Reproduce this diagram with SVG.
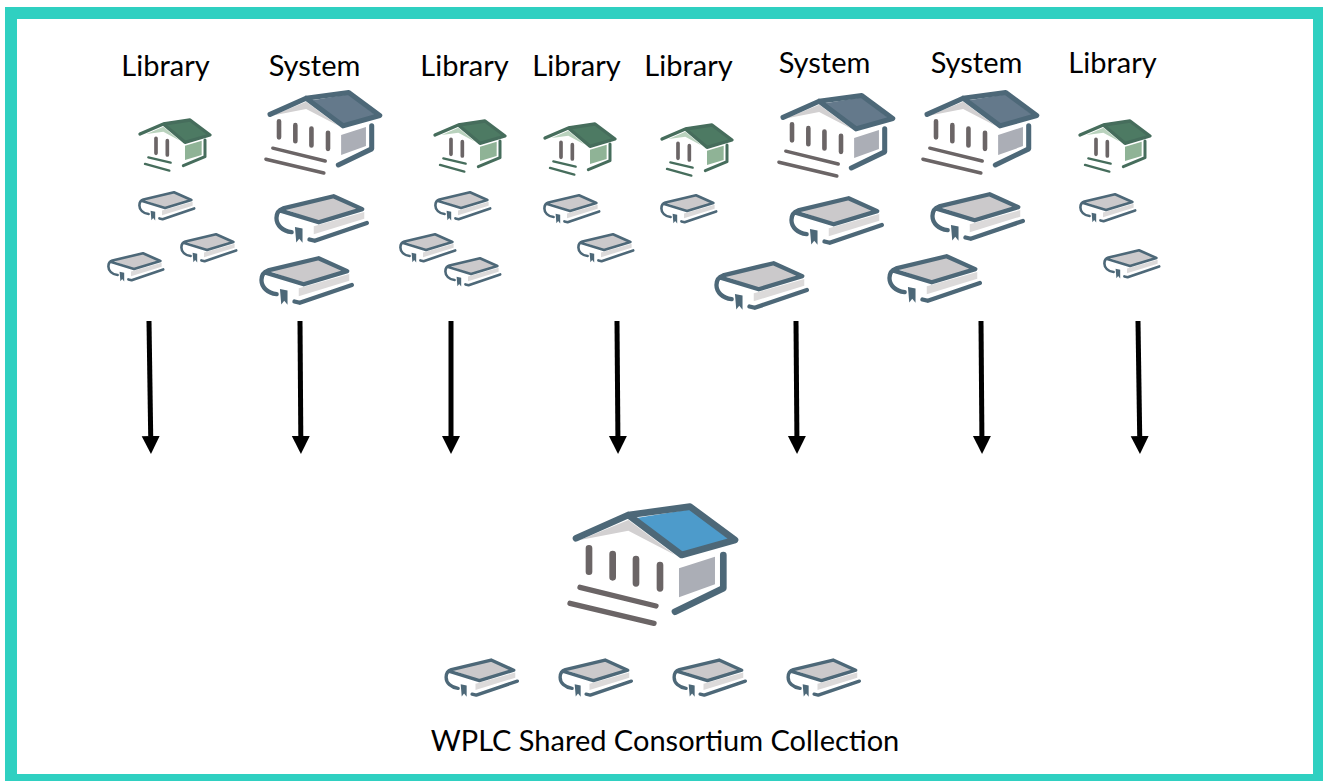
<svg xmlns="http://www.w3.org/2000/svg" width="1323" height="781" viewBox="0 0 1323 781">
<style>
text{font-family:Lato,"Liberation Sans",sans-serif;fill:#000;font-size:29px;text-anchor:middle}
.ln{fill:none;stroke-linecap:round;stroke-linejoin:round}
.slate{stroke:#4d6878}
.dark{stroke:#6b6566}
.green{stroke:#466d5c}
.arrow{stroke:#000;stroke-width:5;fill:none}
</style>
<defs>
<marker id="head" markerUnits="userSpaceOnUse" markerWidth="18" markerHeight="20" refX="0" refY="9" orient="auto">
<path d="M0 0L18 9L0 18Z" fill="#000"/>
</marker>
<g id="house-blue">
<path d="M60 150L205 90L345 195L205 122Z" fill="#d2d0d1"/>
<path d="M225 85L390 58L510 150L368 188Z" fill="#4d9bcb"/>
<path class="ln slate" stroke-width="20" d="M48 145L205 75L390 50L525 150L365 195L205 75"/>
<path class="ln dark" stroke-width="20" d="M87 175V245M158 192V262M228 207V280M300 225V295"/>
<path class="ln dark" stroke-width="16" d="M60 292L288 348M30 340L282 400"/>
<path d="M357 235L465 200V283L357 322Z" fill="#abaeb6"/>
<path class="ln slate" stroke-width="20" d="M490 195V295L345 365"/>
</g>
<g id="house-slate">
<path d="M60 150L205 90L345 195L205 122Z" fill="#d2d0d1"/>
<path d="M225 85L390 58L510 150L368 188Z" fill="#64798b"/>
<path class="ln slate" stroke-width="22" d="M48 145L205 75L390 50L525 150L365 195L205 75"/>
<path class="ln dark" stroke-width="20" d="M87 175V245M158 192V262M228 207V280M300 225V295"/>
<path class="ln dark" stroke-width="15" d="M60 292L288 348M30 340L282 400"/>
<path d="M357 235L465 200V283L357 322Z" fill="#abaeb6"/>
<path class="ln slate" stroke-width="22" d="M490 195V295L345 365"/>
</g>
<g id="house-green">
<path d="M50 72L100 50L150 92L100 65Z" fill="#b9d2bd"/>
<path d="M105 42L180 30L240 75L165 97Z" fill="#4d7a63"/>
<path class="ln green" stroke-width="10" d="M30 72L100 42L180 30L240 75L165 97L100 42"/>
<path class="ln dark" stroke-width="11" d="M78 85V130M112 92V135"/>
<path class="ln green" stroke-width="7" d="M55 142L122 158M45 162L118 182"/>
<path d="M165 107L215 92V135L165 150Z" fill="#8fb396"/>
<path class="ln green" stroke-width="9" d="M225 90V140L160 167"/>
</g>
<g id="book">
<g transform="translate(0 -6)">
<path d="M175 128L328 85V105L175 152Z" fill="#dcdada"/>
<path d="M85 75L232 40L318 76L190 114Z" fill="#cbc9cb"/>
<path class="ln slate" stroke-width="13" d="M108 146C80 142 62 125 62 103C62 85 70 78 82 74L235 37L322 76L190 116L72 80M162 168L178 172L336 118"/>
<path d="M118 130L141 135V178L131 166L122 177Z" fill="#4d6878"/>
</g>
</g>
</defs>
<path id="frame" fill-rule="evenodd" fill="#2fd0c1" d="M5 7H1323V781H5ZM17 19V774H1313V19Z"/>
<g id="connectors">
<path class="arrow" marker-end="url(#head)" d="M149 321L150.700 436"/>
<path class="arrow" marker-end="url(#head)" d="M300 321L300.800 436"/>
<path class="arrow" marker-end="url(#head)" d="M451 321V436"/>
<path class="arrow" marker-end="url(#head)" d="M617 321L617.900 436"/>
<path class="arrow" marker-end="url(#head)" d="M796 321L796.900 436"/>
<path class="arrow" marker-end="url(#head)" d="M981 321L981.900 436"/>
<path class="arrow" marker-end="url(#head)" d="M1138 321L1139.700 436"/>
</g>
<g id="node-library-1"><text x="165.500" y="76">Library</text><use href="#house-green" transform="translate(130 110) scale(.3333)"/><use href="#book" transform="translate(127 186) scale(.2)"/><use href="#book" transform="translate(169 228) scale(.2)"/><use href="#book" transform="translate(96 247) scale(.2)"/></g>
<g id="node-system-1"><text x="314.500" y="76">System</text><use href="#house-slate" transform="translate(259 81) scale(.23)"/><use href="#book" transform="translate(256 186) scale(.33)"/><use href="#book" transform="translate(241 248) scale(.33)"/></g>
<g id="node-library-2"><text x="464.500" y="76">Library</text><use href="#house-green" transform="translate(425 111) scale(.3333)"/><use href="#book" transform="translate(423 186) scale(.2)"/><use href="#book" transform="translate(388 228) scale(.2)"/><use href="#book" transform="translate(433 252) scale(.2)"/></g>
<g id="node-library-3"><text x="576.500" y="76">Library</text><use href="#house-green" transform="translate(535 114) scale(.3333)"/><use href="#book" transform="translate(532 189) scale(.2)"/><use href="#book" transform="translate(566 228) scale(.2)"/></g>
<g id="node-library-4"><text x="688.500" y="76">Library</text><use href="#house-green" transform="translate(652 115) scale(.3333)"/><use href="#book" transform="translate(649 189) scale(.2)"/></g>
<g id="node-system-2"><text x="824.500" y="73">System</text><use href="#house-slate" transform="translate(772 84) scale(.23)"/><use href="#book" transform="translate(771 188) scale(.33)"/><use href="#book" transform="translate(696 253) scale(.33)"/></g>
<g id="node-system-3"><text x="976.500" y="73">System</text><use href="#house-slate" transform="translate(916 81) scale(.23)"/><use href="#book" transform="translate(912 184) scale(.33)"/><use href="#book" transform="translate(869 246) scale(.33)"/></g>
<g id="node-library-5"><text x="1112.500" y="73">Library</text><use href="#house-green" transform="translate(1070 111) scale(.3333)"/><use href="#book" transform="translate(1068 188) scale(.2)"/><use href="#book" transform="translate(1092 244) scale(.2)"/></g>
<g id="node-consortium"><use href="#house-blue" transform="translate(560 490) scale(.3333)"/><use href="#book" transform="translate(430 652) scale(.26)"/><use href="#book" transform="translate(544 652) scale(.26)"/><use href="#book" transform="translate(658 652) scale(.26)"/><use href="#book" transform="translate(772 652) scale(.26)"/><text x="665" y="751">WPLC Shared Consortium Collection</text></g>
</svg>
